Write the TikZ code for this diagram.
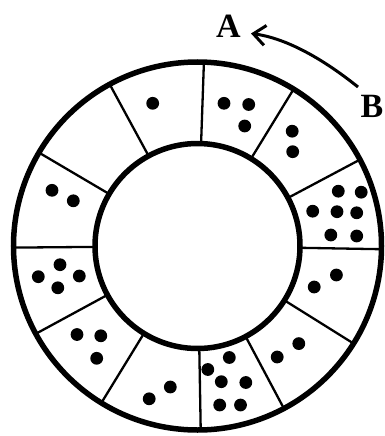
\documentclass[tikz,border=0pt]{standalone}
\usepackage{fontspec}
\setmainfont{Liberation Serif}
\usetikzlibrary{arrows.meta,calc}
\begin{document}
\begin{tikzpicture}[x=1pt,y=-1pt,
  ring/.style={line width=5.5pt},
  spoke/.style={line width=2.3pt},
  dot/.style={circle,fill=black,inner sep=0pt,minimum size=12.8pt},
  lbl/.style={inner sep=0pt,font=\fontsize{34}{34}\selectfont\bfseries},
  arr/.style={line width=3pt,-{Straight Barb[length=12pt,width=20pt,line width=3pt]}}]
\useasboundingbox (0,0) rectangle (384,436);
\coordinate (O) at (197.5,246);
% spokes
\foreach \a in {-1,28,58.5,88,118.5,149.5,180.5,208.5,238.5,271,298,328}
  \draw[spoke] ($(O)+(\a:102.5pt)$) -- ($(O)+(\a:184pt)$);
% rings
\draw[ring] (O) circle[radius=184];
\draw[ring] (O) circle[radius=102.5];
% dots
\node[dot] (d1) at (152.7,103.3) {};
\node[dot] (d2) at (224,103.3) {};
\node[dot] (d3) at (248.7,104.5) {};
\node[dot] (d4) at (244.7,126) {};
\node[dot] (d5) at (292.2,131.2) {};
\node[dot] (d6) at (292.7,151.7) {};
\node[dot] (d7) at (338.3,191.2) {};
\node[dot] (d8) at (361.2,192.2) {};
\node[dot] (d9) at (312.7,211.2) {};
\node[dot] (d10) at (337,211.7) {};
\node[dot] (d11) at (356.7,212.8) {};
\node[dot] (d12) at (330.8,235) {};
\node[dot] (d13) at (356.7,236) {};
\node[dot] (d14) at (336.4,275) {};
\node[dot] (d15) at (314.2,287) {};
\node[dot] (d16) at (298.8,343.6) {};
\node[dot] (d17) at (277.2,357) {};
\node[dot] (d18) at (229.3,357.5) {};
\node[dot] (d19) at (207.8,369.5) {};
\node[dot] (d20) at (221.3,381.7) {};
\node[dot] (d21) at (245.8,382.5) {};
\node[dot] (d22) at (219.7,405) {};
\node[dot] (d23) at (240.5,405) {};
\node[dot] (d24) at (170.3,387) {};
\node[dot] (d25) at (149.2,398.8) {};
\node[dot] (d26) at (77,334.5) {};
\node[dot] (d27) at (100.8,335.8) {};
\node[dot] (d28) at (96.7,358.3) {};
\node[dot] (d29) at (60,264.7) {};
\node[dot] (d30) at (38.3,276.7) {};
\node[dot] (d31) at (79.3,276) {};
\node[dot] (d32) at (57.8,287.8) {};
\node[dot] (d33) at (52,190.3) {};
\node[dot] (d34) at (73.3,200.8) {};
% labels and arrow
\node[lbl] (A) at (228.5,26) {A};
\node[lbl,anchor=east] (B) at (383.5,106.5) {B};
\coordinate (s) at (358,87);
\coordinate (e) at (251,33.5);
\draw[arr] (s) .. controls (319,55.7) and (283.3,37.8) .. (e);
\end{tikzpicture}
\end{document}
